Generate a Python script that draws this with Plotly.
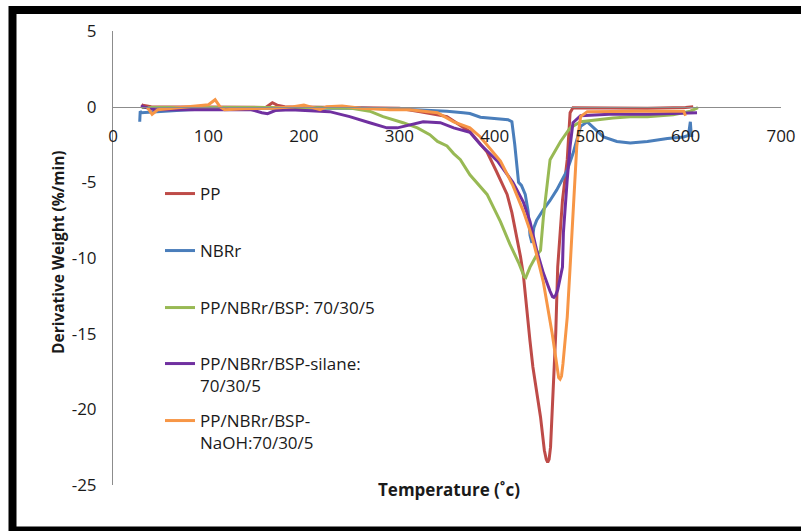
import plotly.graph_objects as go

# ---- data ----
pp_x = [30, 31, 40, 80, 120, 160, 167, 172, 180, 220, 260, 300, 322, 350, 374, 392, 402, 413, 418, 423,
        427, 430, 434, 437, 440, 444, 448, 452, 454, 455.5, 457, 458.5, 461, 464, 466, 469, 471, 476, 479, 482,
        520, 560, 600, 608]
pp_y = [0.15, 0.1, 0, 0, -0.05, -0.05, 0.26, 0.1, 0, -0.05, -0.05, -0.1, -0.33, -0.66, -1.65, -3.0, -4.3, -5.8, -7.0, -8.5,
        -9.9, -11.1, -13.9, -15.5, -17.2, -18.9, -20.5, -22.7, -23.3, -23.5, -23.3, -22.5, -19.4, -14.9, -10.6, -8.0, -6.2, -3.5, -0.4, -0.07,
        -0.1, -0.1, -0.05, 0.0]

nbr_x = [28, 28.5, 30, 44, 79, 120, 200, 260, 300, 322, 350, 367, 374, 385, 400, 414, 418, 421, 425, 428,
         432, 435, 437, 439, 441, 444, 451, 458, 465, 476, 482, 490, 497, 505, 514, 528, 542, 560, 581, 598,
         603, 605, 606, 608]
nbr_y = [-1.0, -0.3, -0.4, -0.33, -0.2, -0.1, -0.1, -0.1, -0.15, -0.2, -0.3, -0.4, -0.45, -0.7, -0.8, -0.86, -1.0, -2.5, -5.0, -5.2,
         -5.8, -6.9, -8.5, -9.0, -8.0, -7.5, -6.8, -6.2, -5.5, -4.2, -3.1, -1.3, -1.0, -1.5, -2.0, -2.3, -2.4, -2.3, -2.1, -2.0,
         -1.9, -1.0, -1.9, -1.9]

bsp_x = [30, 60, 100, 150, 200, 250, 269, 283, 304, 319, 332, 340, 350, 357, 364, 374, 392, 406, 416, 425,
         429, 431, 432.5, 434, 437, 444, 448, 451, 453, 458, 469, 479, 490, 507, 524, 542, 560, 587, 605, 613]
bsp_y = [-0.05, -0.05, -0.05, -0.05, -0.05, -0.1, -0.3, -0.66, -1.06, -1.4, -1.85, -2.3, -2.6, -3.1, -3.5, -4.5, -5.8, -7.6, -9.1, -10.3,
         -10.9, -11.25, -11.3, -11.1, -10.6, -9.8, -9.5, -7.3, -6.2, -3.5, -2.3, -1.4, -1.0, -0.86, -0.75, -0.66, -0.66, -0.53, -0.3, -0.07]

sil_x = [30, 31, 44, 100, 145, 156, 162, 170, 186, 227, 248, 269, 287, 298, 311, 325, 343, 357, 374, 385,
         403, 419, 430, 437, 444, 451, 458, 460.5, 462, 464, 466, 471, 472, 474, 476, 479, 482, 490, 520, 560,
         600, 612]
sil_y = [0.1, 0.0, -0.2, -0.2, -0.2, -0.4, -0.46, -0.26, -0.2, -0.33, -0.66, -1.06, -1.4, -1.4, -1.2, -1.0, -1.06, -1.4, -1.7, -2.5,
         -3.6, -5.0, -6.3, -7.6, -9.5, -11.0, -12.2, -12.55, -12.6, -12.45, -12.1, -10.6, -8.3, -6.2, -4.8, -2.6, -1.06, -0.6, -0.5, -0.5,
         -0.45, -0.4]

naoh_x = [36, 41, 47, 68, 86, 100, 107, 112, 117, 138, 167, 189, 200, 210, 217, 224, 240, 260, 290, 311,
          340, 357, 374, 385, 406, 419, 430, 436, 440, 444, 451, 460, 465, 467, 468.5, 470, 471.5, 476, 479, 482,
          486, 490, 497, 550, 598, 600]
naoh_y = [-0.05, -0.5, -0.2, -0.07, 0.0, 0.13, 0.46, 0.0, -0.2, -0.13, -0.1, 0.0, 0.1, -0.05, -0.2, 0.0, 0.05, -0.1, -0.2, -0.2,
          -0.4, -1.0, -1.4, -2.0, -3.6, -5.2, -6.9, -8.0, -8.8, -9.8, -11.6, -14.9, -17.2, -17.9, -18.0, -17.8, -17.0, -13.9, -10.6, -7.3,
          -2.6, -0.66, -0.33, -0.3, -0.3, -0.6]

names = ["PP", "NBRr", "PP/NBRr/BSP: 70/30/5", "PP/NBRr/BSP-silane:<br>70/30/5", "PP/NBRr/BSP-<br>NaOH:70/30/5"]
colors = ["#BE4B48", "#4A7EBB", "#98B954", "#7030A0", "#F79646"]
series_x = [pp_x, nbr_x, bsp_x, sil_x, naoh_x]
series_y = [pp_y, nbr_y, bsp_y, sil_y, naoh_y]

x_ticks = [0, 100, 200, 300, 400, 500, 600, 700]
x_labels = ["0", "100", "200", "300", "400", "500", "600", "700"]
y_ticks = [5, 0, -5, -10, -15, -20, -25]
y_labels = ["5", "0", "-5", "-10", "-15", "-20", "-25"]

FONT = "Open Sans"
TXT = "#1a1a1a"

fig = go.Figure()
legend_keys = ["legend", "legend2", "legend3", "legend4", "legend5"]
for i in range(5):
    fig.add_trace(go.Scatter(x=series_x[i], y=series_y[i], mode="lines", name=names[i],
                             line=dict(color=colors[i], width=3), legend=legend_keys[i]))

W, H = 801, 531
L, R, T, B = 113, 20, 31, 46
pw, ph = W - L - R, H - T - B

def px_x(p):
    return (p - L) / pw

def px_y(p):
    return (H - B - p) / ph

leg_rows = [193, 250, 307, 363, 420]
layout_legends = {}
for k, row in zip(legend_keys, leg_rows):
    layout_legends[k] = dict(x=px_x(160), y=px_y(row - 17), xanchor="left", yanchor="top",
                             bgcolor="rgba(0,0,0,0)", valign="top",
                             font=dict(family=FONT, size=17, color=TXT))

fig.update_layout(
    width=W, height=H,
    margin=dict(l=L, r=R, t=T, b=B, autoexpand=False),
    paper_bgcolor="white", plot_bgcolor="white",
    showlegend=True,
    xaxis=dict(range=[0, 700], tickvals=x_ticks, ticktext=x_labels, showgrid=False, zeroline=False,
               showline=True, linecolor="#8c8c8c", linewidth=1, ticks="", automargin=False,
               anchor="free", position=25 / 30, ticklabelstandoff=14,
               tickfont=dict(family=FONT, size=17, color=TXT)),
    yaxis=dict(range=[-25, 5], tickvals=y_ticks, ticktext=y_labels, showgrid=False, zeroline=False,
               showline=True, linecolor="#8c8c8c", linewidth=1, ticks="", automargin=False,
               ticklabelstandoff=12,
               tickfont=dict(family=FONT, size=17, color=TXT)),
    annotations=[
        dict(text="<b>Temperature (˚c)</b>", xref="paper", yref="paper",
             x=px_x(449), y=px_y(503), showarrow=False,
             font=dict(family=FONT, size=17, color=TXT)),
        dict(text="<b>Derivative Weight (%/min)</b>", xref="paper", yref="paper",
             x=px_x(45), y=px_y(252), showarrow=False, textangle=-90,
             font=dict(family=FONT, size=15.5, color=TXT)),
    ],
    shapes=[
        dict(type="path", xref="paper", yref="paper",
             path=f"M {px_x(12.5)} {px_y(540)} L {px_x(12.5)} {px_y(10)} L {px_x(815)} {px_y(10)}",
             line=dict(color="black", width=8)),
        dict(type="line", xref="paper", yref="paper",
             x0=px_x(12.5), x1=px_x(815), y0=px_y(530.5), y1=px_y(530.5),
             line=dict(color="black", width=8)),
    ],
    **layout_legends,
)

fig.write_html("out.html",
               config={"displayModeBar": False},
               post_script="document.body.style.margin='0';document.body.style.overflow='hidden';"
                           "document.documentElement.style.overflow='hidden';")
